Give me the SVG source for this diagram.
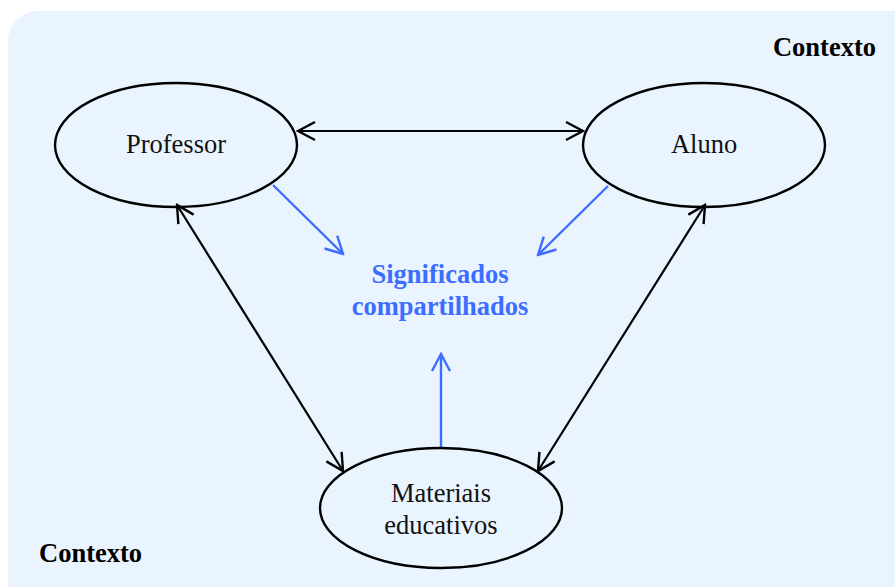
<svg xmlns="http://www.w3.org/2000/svg" width="895" height="587" viewBox="0 0 895 587">
  <style>
    .node { fill: none; stroke: #000; stroke-width: 2.4; }
    .label { font-family: "Liberation Serif", "Times New Roman", serif; font-size: 26.5px; fill: #111; text-anchor: middle; }
    .ctx { font-family: "Liberation Serif", "Times New Roman", serif; font-size: 26.5px; font-weight: bold; fill: #000; }
    .shared { font-family: "Liberation Serif", "Times New Roman", serif; font-size: 26.5px; font-weight: bold; fill: #3d6dff; text-anchor: middle; }
    .link { stroke: #000; stroke-width: 2.2; fill: none; }
    .flow { stroke: #3d6dff; stroke-width: 2.4; fill: none; }
  </style>
  <defs>
    <marker id="headBlack" viewBox="-19 -11 21 22" refX="0" refY="0" markerWidth="21" markerHeight="22" markerUnits="userSpaceOnUse" orient="auto-start-reverse">
      <path d="M-17,-9 L0,0 L-17,9" fill="none" stroke="#000" stroke-width="2.4" stroke-linejoin="miter"/>
    </marker>
    <marker id="headBlue" viewBox="-19 -11 21 22" refX="0" refY="0" markerWidth="21" markerHeight="22" markerUnits="userSpaceOnUse" orient="auto">
      <path d="M-17,-9 L0,0 L-17,9" fill="none" stroke="#3d6dff" stroke-width="2.4"/>
    </marker>
  </defs>

  <!-- context panel -->
  <rect x="8" y="11" width="920" height="600" rx="30" ry="30" fill="#eaf4ff"/>
  <text class="ctx" x="876" y="56" text-anchor="end">Contexto</text>
  <text class="ctx" x="39" y="562">Contexto</text>

  <!-- connectors -->
  <g id="connectors">
    <line class="link" x1="298" y1="131" x2="583" y2="131" marker-start="url(#headBlack)" marker-end="url(#headBlack)"/>
    <line class="link" x1="177" y1="205" x2="343" y2="471" marker-start="url(#headBlack)" marker-end="url(#headBlack)"/>
    <line class="link" x1="705" y1="205" x2="538" y2="471" marker-start="url(#headBlack)" marker-end="url(#headBlack)"/>
    <line class="flow" x1="273" y1="185" x2="343" y2="254" marker-end="url(#headBlue)"/>
    <line class="flow" x1="608" y1="186" x2="538" y2="255" marker-end="url(#headBlue)"/>
    <line class="flow" x1="441" y1="448" x2="441" y2="354" marker-end="url(#headBlue)"/>
  </g>

  <g id="professor">
    <ellipse class="node" cx="176" cy="145" rx="121" ry="62"/>
    <text class="label" x="176" y="153">Professor</text>
  </g>
  <g id="aluno">
    <ellipse class="node" cx="704" cy="145" rx="121" ry="62"/>
    <text class="label" x="704" y="153">Aluno</text>
  </g>
  <g id="materiais">
    <ellipse class="node" cx="441" cy="508" rx="121" ry="60"/>
    <text class="label" x="441" y="502">Materiais</text>
    <text class="label" x="441" y="534">educativos</text>
  </g>
  <g id="significados">
    <text class="shared" x="440" y="283">Significados</text>
    <text class="shared" x="440" y="315">compartilhados</text>
  </g>
</svg>
